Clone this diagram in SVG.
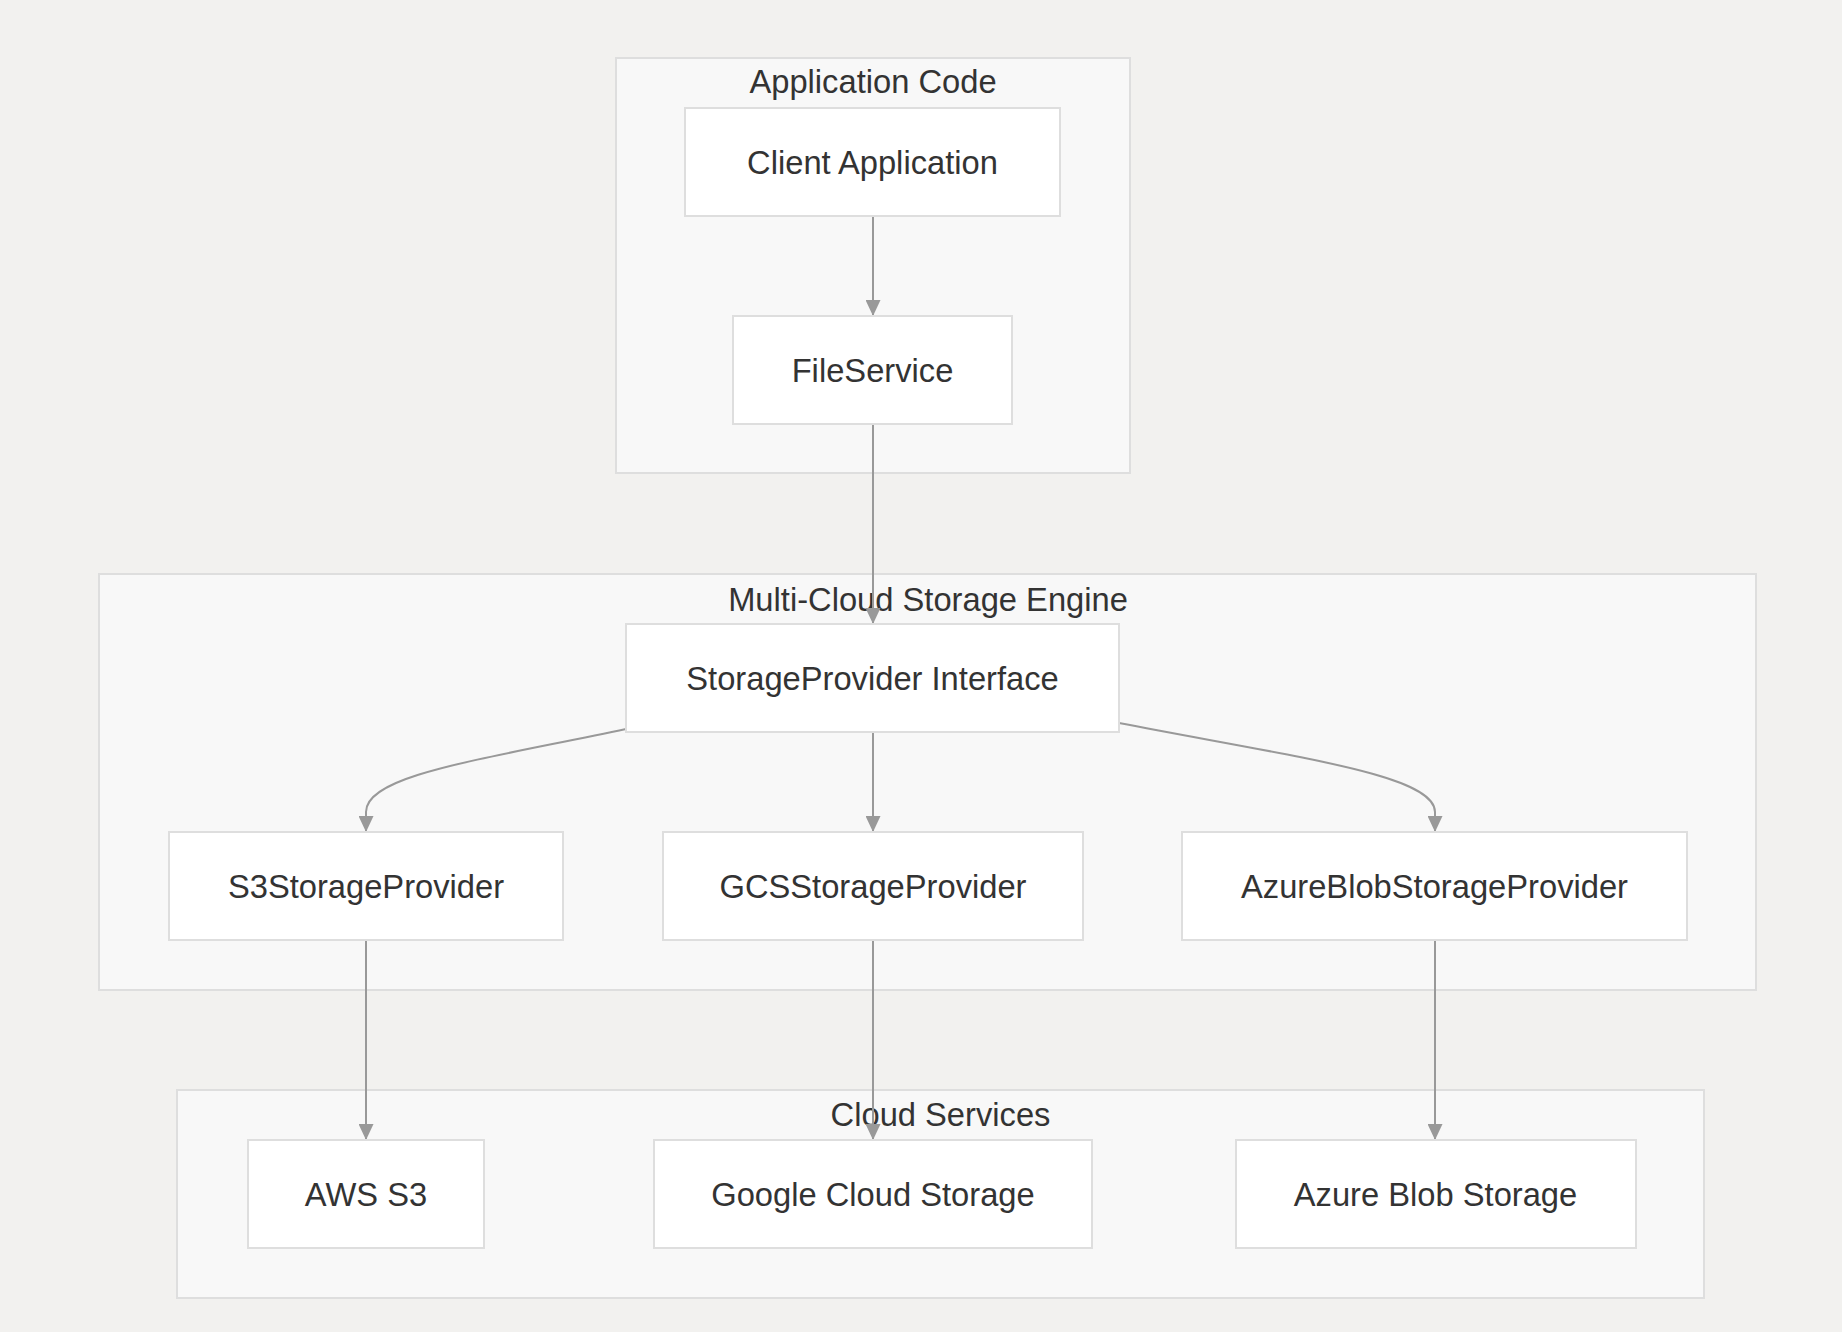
<svg xmlns="http://www.w3.org/2000/svg" width="1842" height="1332" viewBox="0 0 1842 1332">
<style>
.cluster{fill:#f8f8f8;stroke:#dedede;stroke-width:2}
.node{fill:#ffffff;stroke:#dedede;stroke-width:2}
.title,.label{font-family:"Liberation Sans",Arial,sans-serif;font-size:32.7px;fill:#333333;text-anchor:middle}
.edge{fill:none;stroke:#999999;stroke-width:2}
</style>
<defs>
<marker id="arrow" viewBox="0 0 16 15" refX="16" refY="7.5" markerWidth="16" markerHeight="15" markerUnits="userSpaceOnUse" orient="auto">
<path d="M0,0 L16,7.5 L0,15 z" fill="#999999"/>
</marker>
</defs>
<rect width="1842" height="1332" fill="#f2f1ef"/>
<g id="cluster-app">
<rect class="cluster" x="616" y="58" width="514" height="415"/>
<text class="title" x="873" y="93">Application Code</text>
</g>
<g id="cluster-engine">
<rect class="cluster" x="99" y="574" width="1657" height="416"/>
<text class="title" x="928" y="611">Multi-Cloud Storage Engine</text>
</g>
<g id="cluster-cloud">
<rect class="cluster" x="177" y="1090" width="1527" height="208"/>
<text class="title" x="940.5" y="1126">Cloud Services</text>
</g>
<g id="connectors">
<path class="edge" d="M873,216 L873,316" marker-end="url(#arrow)"/>
<path class="edge" d="M873,424 L873,624" marker-end="url(#arrow)"/>
<path class="edge" d="M626,729 C480,760 366,775 366,812 L366,832" marker-end="url(#arrow)"/>
<path class="edge" d="M873,732 L873,832" marker-end="url(#arrow)"/>
<path class="edge" d="M1119,723 C1300,758 1435,775 1435,812 L1435,832" marker-end="url(#arrow)"/>
<path class="edge" d="M366,940 L366,1140" marker-end="url(#arrow)"/>
<path class="edge" d="M873,940 L873,1140" marker-end="url(#arrow)"/>
<path class="edge" d="M1435,940 L1435,1140" marker-end="url(#arrow)"/>
</g>
<g id="node-client">
<rect class="node" x="685" y="108" width="375" height="108"/>
<text class="label" x="872.5" y="174">Client Application</text>
</g>
<g id="node-fileservice">
<rect class="node" x="733" y="316" width="279" height="108"/>
<text class="label" x="872.5" y="382">FileService</text>
</g>
<g id="node-interface">
<rect class="node" x="626" y="624" width="493" height="108"/>
<text class="label" x="872.5" y="690">StorageProvider Interface</text>
</g>
<g id="node-s3provider">
<rect class="node" x="169" y="832" width="394" height="108"/>
<text class="label" x="366" y="898">S3StorageProvider</text>
</g>
<g id="node-gcsprovider">
<rect class="node" x="663" y="832" width="420" height="108"/>
<text class="label" x="873" y="898">GCSStorageProvider</text>
</g>
<g id="node-azureprovider">
<rect class="node" x="1182" y="832" width="505" height="108"/>
<text class="label" x="1434.5" y="898">AzureBlobStorageProvider</text>
</g>
<g id="node-aws">
<rect class="node" x="248" y="1140" width="236" height="108"/>
<text class="label" x="366" y="1206">AWS S3</text>
</g>
<g id="node-gcs">
<rect class="node" x="654" y="1140" width="438" height="108"/>
<text class="label" x="873" y="1206">Google Cloud Storage</text>
</g>
<g id="node-azure">
<rect class="node" x="1236" y="1140" width="400" height="108"/>
<text class="label" x="1435.5" y="1206">Azure Blob Storage</text>
</g>
</svg>
